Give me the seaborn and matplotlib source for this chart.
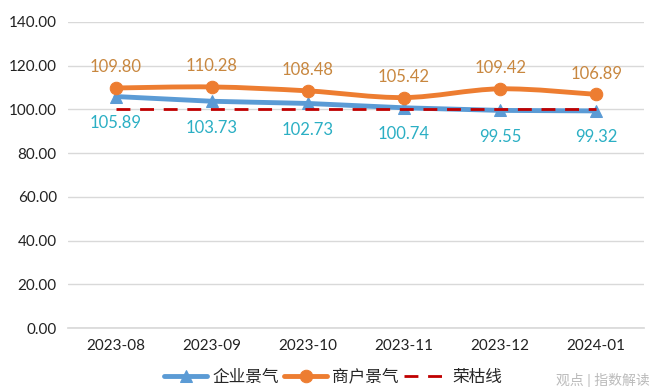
import matplotlib
matplotlib.use("Agg")
import matplotlib.pyplot as plt
from matplotlib.path import Path
from matplotlib.patches import PathPatch
import seaborn as sns
import pandas as pd
import numpy as np

months = ["2023-08", "2023-09", "2023-10", "2023-11", "2023-12", "2024-01"]
enterprise = [105.89, 103.73, 102.73, 100.74, 99.55, 99.32]
merchant = [109.80, 110.28, 108.48, 105.42, 109.42, 106.89]
threshold = [100, 100, 100, 100, 100, 100]
yticks = [0, 20, 40, 60, 80, 100, 120, 140]

sns.set_theme(style="white")
plt.rcParams['font.family'] = ['Lato', 'Noto Sans CJK SC', 'DejaVu Sans']

df = pd.DataFrame({"x": np.arange(len(months)), "企业景气": enterprise,
                   "商户景气": merchant, "荣枯线": threshold})

fig = plt.figure(figsize=(6.6, 3.92), dpi=100)
ax = fig.add_axes([0.103, 0.163, 0.873, 0.781])

blue = "#5B9BD5"
orange = "#ED7D31"
red = "#C00000"

sns.lineplot(data=df, x="x", y="企业景气", ax=ax, color=blue, lw=3.5,
             marker="^", markersize=9, markeredgecolor=blue, label="企业景气", zorder=3)
sns.lineplot(data=df, x="x", y="商户景气", ax=ax, color=orange, lw=3.5,
             marker="o", markersize=9, markeredgecolor=orange, label="商户景气", zorder=5)
sns.lineplot(data=df, x="x", y="荣枯线", ax=ax, color=red, lw=2,
             linestyle=(0, (5, 3.5)), label="荣枯线", zorder=4)

for i, v in enumerate(merchant):
    ax.annotate(f"{v:.2f}", (i, v), xytext=(0, 15), textcoords="offset points",
                ha="center", va="center", fontsize=12, color="#C8873F")
for i, v in enumerate(enterprise):
    ax.annotate(f"{v:.2f}", (i, v), xytext=(0, -19), textcoords="offset points",
                ha="center", va="center", fontsize=12, color="#2BAFC4")

ax.set_xlim(-0.5, len(months) - 0.5)
ax.set_ylim(0, 140)
ax.set_yticks(yticks)
ax.set_yticklabels([f"{t:.2f}" for t in yticks], fontsize=11, color="#222222")
ax.set_xticks(range(len(months)))
ax.set_xticklabels(months, fontsize=11, color="#222222")
ax.tick_params(axis="both", length=0, pad=8)
ax.grid(axis="y", color="#D9D9D9", lw=1)
for s in ["top", "right", "left"]:
    ax.spines[s].set_visible(False)
ax.spines["bottom"].set_color("#D9D9D9")
ax.set_xlabel("")
ax.set_ylabel("")

leg = ax.legend(loc="upper center", bbox_to_anchor=(0.46, -0.085), ncol=3, frameon=False,
                fontsize=12, handlelength=2.6, columnspacing=0.3, handletextpad=0.3)

# smooth the merchant line (Excel-style smoothed line) in display space
orange_line = [l for l in ax.get_lines() if l.get_label() == "商户景气" or l.get_color() == orange]
fig.canvas.draw()
line = ax.lines[1]
line.set_linestyle("None")
xs = np.arange(len(merchant), dtype=float)
ys = np.asarray(merchant, dtype=float)
pts = ax.transData.transform(np.column_stack([xs, ys]))
verts = [tuple(pts[0])]
codes = [Path.MOVETO]
n = len(pts)
for i in range(n - 1):
    p0 = pts[i - 1] if i > 0 else pts[i]
    p1 = pts[i]
    p2 = pts[i + 1]
    p3 = pts[i + 2] if i + 2 < n else pts[i + 1]
    c1 = p1 + (p2 - p0) / 6.0
    c2 = p2 - (p3 - p1) / 6.0
    verts += [tuple(c1), tuple(c2), tuple(p2)]
    codes += [Path.CURVE4] * 3
data_verts = ax.transData.inverted().transform(np.array(verts))
patch = PathPatch(Path(data_verts, codes), facecolor="none", edgecolor=orange, lw=3.5,
                  zorder=4.9, capstyle="round", joinstyle="round")
ax.add_patch(patch)

fig.text(0.985, 0.03, "观点 | 指数解读", ha="right", va="center", fontsize=10,
         color="#BBBBBB")

fig.savefig("out.png", dpi=100)
